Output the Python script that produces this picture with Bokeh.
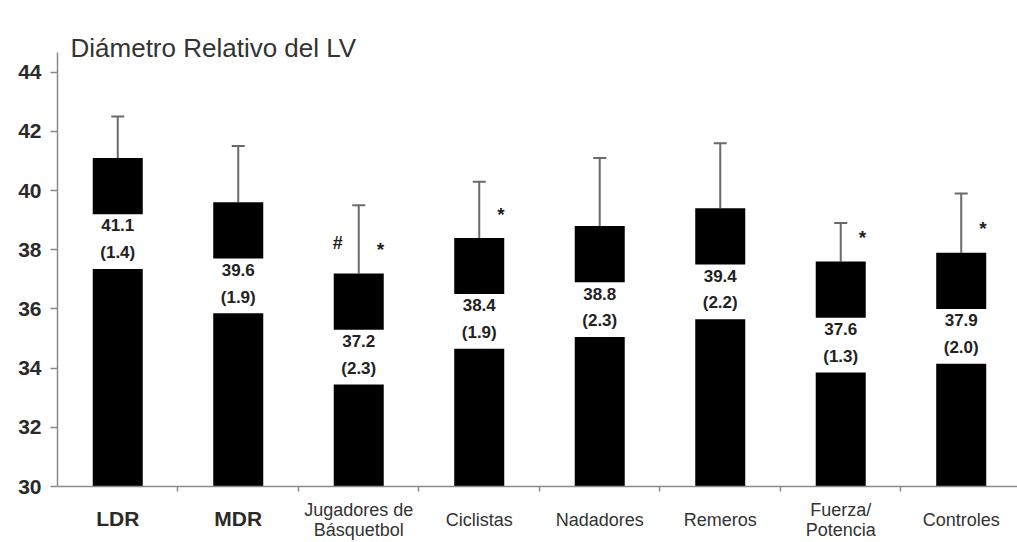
from bokeh.plotting import figure
from bokeh.models import Range1d, FixedTicker, ColumnDataSource, Label, Whisker, TeeHead
from bokeh.core.properties import value
from bokeh.embed import file_html
from bokeh.resources import INLINE

# ---- data ----
categories = ["LDR", "MDR", "Jugadores de\nBásquetbol", "Ciclistas", "Nadadores",
              "Remeros", "Fuerza/\nPotencia", "Controles"]
means = [41.1, 39.6, 37.2, 38.4, 38.8, 39.4, 37.6, 37.9]
sds = [1.4, 1.9, 2.3, 1.9, 2.3, 2.2, 1.3, 2.0]
marks_right = ["", "", "*", "*", "", "", "*", "*"]
marks_left = ["", "", "#", "", "", "", "", ""]
y_ticks = [30, 32, 34, 36, 38, 40, 42, 44]
title_text = "Diámetro Relativo del LV"

FONT = "Liberation Sans"
n = len(categories)
xs = list(range(n))
Y0, YTOP = 30, 44.66

src = ColumnDataSource(dict(
    x=xs,
    mean=means,
    upper=[m + s for m, s in zip(means, sds)],
    gap_top=[m - 1.9 for m in means],
    gap_bot=[m - 3.75 for m in means],
    val_y=[m - 2.28 for m in means],
    sd_y=[m - 3.2 for m in means],
    val_txt=[f"{m:.1f}" for m in means],
    sd_txt=[f"({s:.1f})" for s in sds],
))

p = figure(width=1017, height=542, output_backend="svg", toolbar_location=None, title=None,
           x_range=Range1d(-0.5, 7.467), y_range=Range1d(28.108, 46.42),
           min_border_left=57, min_border_right=0, min_border_top=0, min_border_bottom=0)
p.background_fill_color = "white"
p.border_fill_color = "white"
p.outline_line_color = None
p.xgrid.visible = False
p.ygrid.visible = False

# bars
p.vbar(x="x", top="mean", bottom=Y0, width=0.415, fill_color="black", line_color=None, source=src)
# white label gap
p.vbar(x="x", top="gap_top", bottom="gap_bot", width=0.44, fill_color="white", line_color=None, source=src)

# error bars (upward only)
w = Whisker(source=src, base="x", lower="mean", upper="upper", line_color="#6a6a6a", line_width=2,
            upper_head=TeeHead(size=13, line_color="#6a6a6a", line_width=2), lower_head=None)
p.add_layout(w)

# values inside bars
for col in ("val", "sd"):
    p.text(x="x", y=f"{col}_y", text=f"{col}_txt", source=src, text_align="center", text_baseline="middle",
           text_font=value(FONT), text_font_size="17px", text_font_style="bold", text_color="#222222")

# significance marks
mk = ColumnDataSource(dict(
    xr=[x + 0.18 for x in xs], yr=[m + 0.8 for m in means], tr=marks_right,
    xl=[x - 0.175 for x in xs], yl=[m + 1.02 for m in means], tl=marks_left,
))
p.text(x="xr", y="yr", text="tr", source=mk, text_align="center", text_baseline="middle",
       text_font=value(FONT), text_font_size="19px", text_font_style="bold", text_color="#222222")
p.text(x="xl", y="yl", text="tl", source=mk, text_align="center", text_baseline="middle",
       text_font=value(FONT), text_font_size="18px", text_font_style="bold", text_color="#222222")

# category labels below the x axis
big = {"LDR", "MDR"}
cat_big = ColumnDataSource(dict(x=[x for x, c in zip(xs, categories) if c in big],
                                t=[c for c in categories if c in big]))
cat_small = ColumnDataSource(dict(x=[x for x, c in zip(xs, categories) if c not in big],
                                  t=[c for c in categories if c not in big]))
p.text(x="x", y=Y0 - 32 / 29.6, text="t", source=cat_big, text_align="center", text_baseline="middle",
       text_font=value(FONT), text_font_size="21px", text_font_style="bold", text_color="#2a2a2a")
p.text(x="x", y=Y0 - 34 / 29.6, text="t", source=cat_small, text_align="center", text_baseline="middle",
       text_font=value(FONT), text_font_size="18px", text_color="#333333", text_line_height=1.0)

# title
p.add_layout(Label(x=-0.5 + 13 / 120.5, y=44.83, text=title_text, text_align="left",
                   text_baseline="alphabetic", text_font=FONT, text_font_size="26px",
                   text_color="#333333"))

# axes
p.xaxis.fixed_location = Y0
p.xaxis.ticker = FixedTicker(ticks=[], minor_ticks=[i + 0.5 for i in range(n - 1)])
p.xaxis.axis_line_color = "#8a8a8a"
p.xaxis.axis_line_width = 1.5
p.xaxis.minor_tick_out = 5
p.xaxis.minor_tick_in = 0
p.xaxis.minor_tick_line_color = "#8a8a8a"
p.xaxis.minor_tick_line_width = 1.5
p.xaxis.major_tick_out = 0
p.xaxis.major_tick_in = 0

p.yaxis.bounds = (Y0, YTOP)
p.yaxis.ticker = FixedTicker(ticks=y_ticks)
p.yaxis.axis_line_color = "#8a8a8a"
p.yaxis.axis_line_width = 1.5
p.yaxis.major_tick_out = 7
p.yaxis.major_tick_in = 0
p.yaxis.major_tick_line_color = "#8a8a8a"
p.yaxis.major_tick_line_width = 1.5
p.yaxis.minor_tick_out = 0
p.yaxis.minor_tick_in = 0
p.yaxis.major_label_standoff = 9
p.yaxis.major_label_text_font = FONT
p.yaxis.major_label_text_font_size = "21px"
p.yaxis.major_label_text_font_style = "bold"
p.yaxis.major_label_text_color = "#2a2a2a"

open("out.html", "w").write(file_html(p, INLINE))
